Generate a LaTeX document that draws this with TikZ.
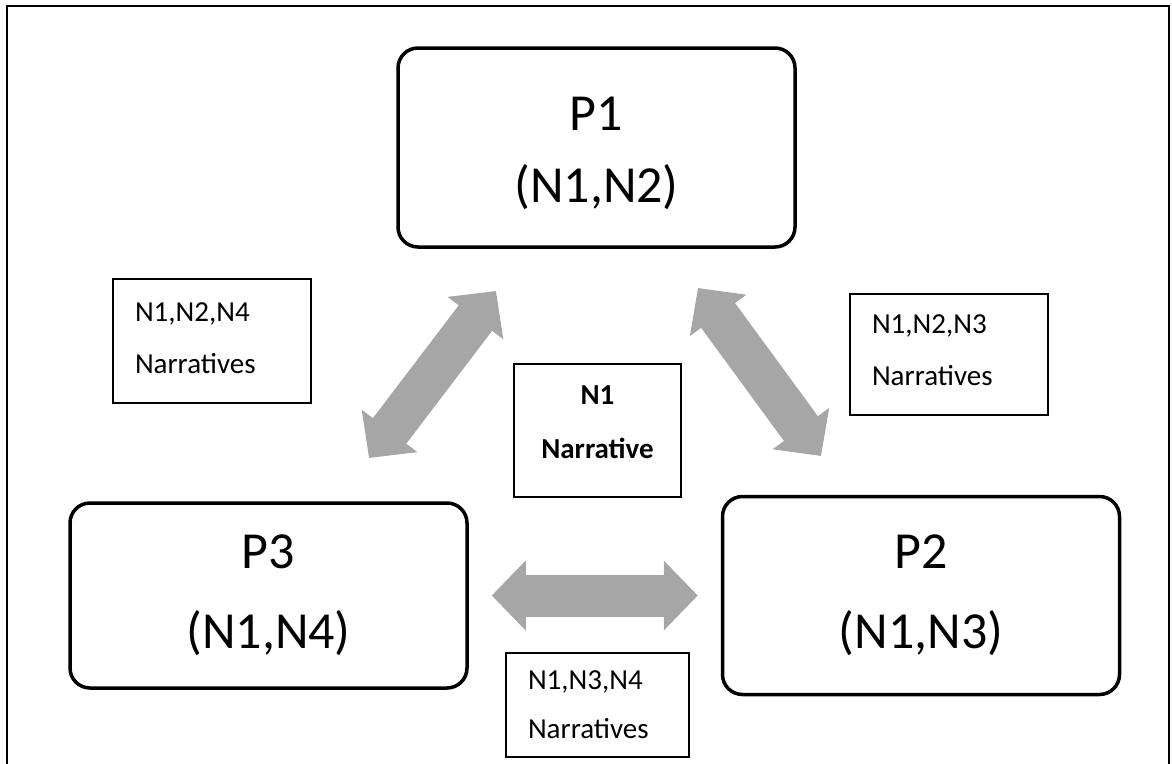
\documentclass[tikz,border=0pt]{standalone}
\usepackage{fontspec}
\setmainfont{Carlito}
\usepackage{tikz}
\usetikzlibrary{positioning}
\usetikzlibrary{arrows.meta}
\definecolor{arrowgray}{HTML}{A6A6A6}
\tikzset {
  % rounded boxes, one per party
  party/.style = {draw, line width=3.5pt, rounded corners=20pt, minimum width=397pt, align=center, font=\fontsize{52}{80}\selectfont},
  % plain boxes with the shared narratives
  shared/.style = {draw, line width=1.3pt, inner xsep=22pt, align=left, font=\fontsize{29}{52}\selectfont},
  % broad grey arrows with a head at each end
  link/.style = {arrowgray, line width=42pt, {Triangle[length=34pt, width=68pt]}-{Triangle[length=34pt, width=68pt]}},
}

\begin{document}
\begin{tikzpicture}[x=1pt, y=-1pt]
      \useasboundingbox (0,0) rectangle (1172,763);
      \draw [line width=2pt] (7,6) rectangle (1169,800);

      \node[party, minimum height=199pt, font=\fontsize{52}{72}\selectfont] (p1) at (596.5,147.5) {\rule{0pt}{46pt}P1\\(N1,N2)};
      \node[party, minimum height=198pt] (p2) at (921,595.5) {P2\\(N1,N3)};
      \node[party, minimum height=185pt] (p3) at (268.5,595.5) {P3\\(N1,N4)};

      \node[shared, text width=154pt, minimum height=124pt] (n124) at (212,341) {N1,N2,N4\\Narratives\rule[-6pt]{0pt}{0pt}};
      \node[shared, text width=154pt, minimum height=121pt] (n123) at (949,354.5) {N1,N2,N3\\Narratives\rule[-8pt]{0pt}{0pt}};
      \node[shared, text width=139pt, minimum height=104pt, font=\fontsize{29}{49}\selectfont] (n134) at (597.5,705) {N1,N3,N4\\Narratives};
      \node[shared, text width=123pt, minimum height=133pt, align=center, font=\bfseries\fontsize{29}{54}\selectfont] (n1) at (597.5,430.5) {N1\\Narrative\rule[-16pt]{0pt}{0pt}};

      \coordinate (a31) at (369,458);
      \coordinate (a13) at (496,291);
      \coordinate (a12) at (698,288);
      \coordinate (a21) at (821,456);

      \draw [link] (a31) -- (a13);
      \draw [link] (a12) -- (a21);
      \draw [link, shorten <=23pt, shorten >=23pt] (p3) -- (p2);
    \end{tikzpicture}
\end{document}
